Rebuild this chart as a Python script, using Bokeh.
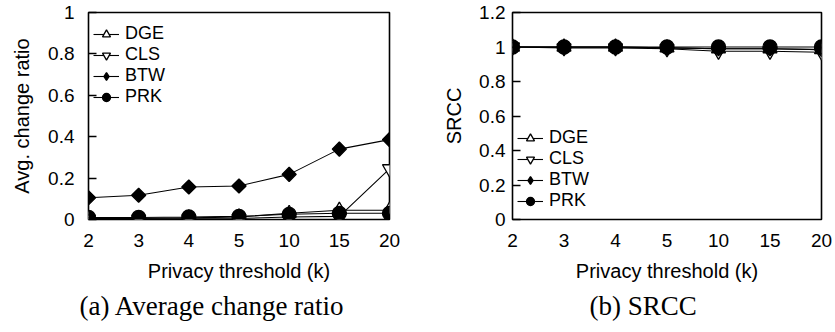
import numpy as np
from bokeh.plotting import figure
from bokeh.layouts import row
from bokeh.models import FixedTicker, Legend, LegendItem, Range1d
from bokeh.embed import file_html
from bokeh.resources import INLINE

# ---- data ----
k_labels = ["2", "3", "4", "5", "10", "15", "20"]
methods = ["DGE", "CLS", "BTW", "PRK"]

# (a) Average change ratio
change_dge = [0.005, 0.005, 0.008, 0.012, 0.03, 0.045, 0.045]
change_cls = [0.002, 0.002, 0.003, 0.005, 0.012, 0.015, 0.245]
change_btw = [0.105, 0.117, 0.157, 0.162, 0.218, 0.340, 0.386]
change_prk = [0.010, 0.010, 0.012, 0.015, 0.025, 0.030, 0.030]

# (b) SRCC
srcc_dge = [1.0, 1.0, 1.0, 0.995, 0.99, 0.99, 0.985]
srcc_cls = [1.0, 0.995, 0.995, 0.99, 0.975, 0.975, 0.97]
srcc_btw = [1.0, 1.0, 1.0, 0.995, 0.99, 0.99, 0.985]
srcc_prk = [1.0, 1.0, 1.0, 1.0, 1.0, 1.0, 1.0]

ticks_a = [0, 0.2, 0.4, 0.6, 0.8, 1.0]
tick_labels_a = ["0", "0.2", "0.4", "0.6", "0.8", "1"]
ticks_b = [0, 0.2, 0.4, 0.6, 0.8, 1.0, 1.2]
tick_labels_b = ["0", "0.2", "0.4", "0.6", "0.8", "1", "1.2"]

SANS = "Liberation Sans"
SERIF = "Liberation Serif"
FS = "19px"

xs = list(range(len(k_labels)))
nan_pt = [np.nan]


def make_panel(series, yticks, ylabels, ymax, ylabel, caption, width, height,
               bl, br, bt, bb, tick_standoff, label_standoff, leg_loc, cap_offset):
    p = figure(width=width, height=height, output_backend="svg", toolbar_location=None,
               x_range=Range1d(0, len(k_labels) - 1), y_range=Range1d(0, ymax),
               min_border_left=bl, min_border_right=br, min_border_top=bt,
               min_border_bottom=bb, title=caption, title_location="below")
    p.title.text_font = SERIF
    p.title.text_font_size = "27px"
    p.title.text_font_style = "normal"
    p.title.text_color = "black"
    p.title.align = "left"
    p.title.offset = cap_offset
    p.title.standoff = 8
    p.grid.visible = False
    p.outline_line_color = "black"
    p.outline_line_width = 1.6
    p.outline_line_alpha = 1.0
    p.background_fill_color = "white"
    p.border_fill_color = "white"

    p.xaxis.ticker = FixedTicker(ticks=xs)
    p.xaxis.major_label_overrides = {i: lab for i, lab in zip(xs, k_labels)}
    p.yaxis.ticker = FixedTicker(ticks=yticks)
    p.yaxis.major_label_overrides = {str(t): lab for t, lab in zip(yticks, ylabels)}
    for ax in (p.xaxis[0], p.yaxis[0]):
        ax.axis_line_color = None
        ax.minor_tick_line_color = None
        ax.major_label_text_font = SANS
        ax.major_label_text_font_size = FS
        ax.major_label_text_color = "black"
        ax.axis_label_text_font = SANS
        ax.axis_label_text_font_size = "20px"
        ax.axis_label_text_font_style = "normal"
        ax.axis_label_text_color = "black"
        ax.major_tick_line_color = "black"
        ax.major_tick_line_width = 1.3
        ax.major_tick_out = 0
    p.xaxis.major_tick_in = 0
    p.yaxis.major_tick_in = 8
    p.xaxis.major_label_standoff = 14
    p.xaxis.axis_label_standoff = 10
    p.yaxis.major_label_standoff = tick_standoff
    p.yaxis.axis_label_standoff = label_standoff
    p.xaxis.axis_label = "Privacy threshold (k)"
    p.yaxis.axis_label = ylabel

    styles = [
        dict(marker="triangle", size=14, fill_color="white", angle=0.0),
        dict(marker="inverted_triangle", size=14, fill_color="white", angle=0.0),
        dict(marker="square", size=10, fill_color="black", angle=np.pi / 4),
        dict(marker="circle", size=14, fill_color="black", angle=0.0),
    ]
    items = []
    for name, ys, st in zip(methods, series, styles):
        ln = p.line(xs, ys, line_color="black", line_width=1.1)
        sc = p.scatter(xs, ys, marker=st["marker"], size=st["size"], angle=st["angle"],
                       fill_color=st["fill_color"], line_color="black", line_width=1.3)
        if st["marker"] == "square":
            # legend swatch drawn as a diamond (nothing plotted)
            sc = p.scatter(x=nan_pt, y=nan_pt, marker="diamond", size=18,
                           fill_color="black", line_color="black", line_width=1.3)
        items.append(LegendItem(label=name, renderers=[ln, sc]))
    leg = Legend(items=items, location=leg_loc)
    leg.background_fill_alpha = 0
    leg.border_line_color = None
    leg.label_text_font = SANS
    leg.label_text_font_size = "18px"
    leg.label_text_color = "black"
    leg.label_height = 20
    leg.glyph_height = 20
    leg.glyph_width = 26
    leg.spacing = 0
    leg.padding = 0
    leg.margin = 0
    leg.label_standoff = 6
    p.add_layout(leg)
    return p


p1 = make_panel([change_dge, change_cls, change_btw, change_prk], ticks_a, tick_labels_a, 1.0,
                "Avg. change ratio", "(a) Average change ratio", 415, 332,
                88, 26, 12, 113, 14, 12, (5, 112), -9)
p2 = make_panel([srcc_dge, srcc_cls, srcc_btw, srcc_prk], ticks_b, tick_labels_b, 1.2,
                "SRCC", "(b) SRCC", 420, 332,
                97, 14, 12, 112, 7, 11, (5, 8), 77)

layout = row(p1, p2)
open("out.html", "w").write(file_html(layout, INLINE))
